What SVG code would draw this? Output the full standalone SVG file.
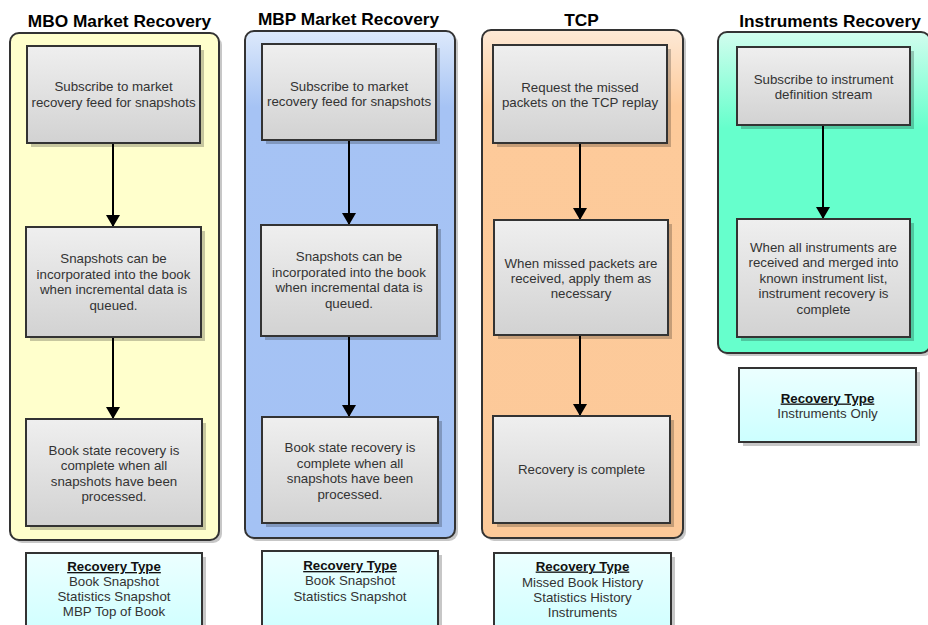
<svg xmlns="http://www.w3.org/2000/svg" width="928" height="625" viewBox="0 0 928 625">
<defs>
<linearGradient id="gBox" x1="0" y1="0" x2="0" y2="1"><stop offset="0" stop-color="#efefef"/><stop offset="1" stop-color="#d2d2d2"/></linearGradient>
<linearGradient id="gRec" x1="0" y1="0" x2="0" y2="1"><stop offset="0" stop-color="#ecffff"/><stop offset="1" stop-color="#ccffff"/></linearGradient>
<linearGradient id="gBlue" x1="0" y1="0" x2="0" y2="1"><stop offset="0" stop-color="#dde9fb"/><stop offset="0.15" stop-color="#a6c3f4"/><stop offset="1" stop-color="#a4c2f4"/></linearGradient>
<linearGradient id="gOrange" x1="0" y1="0" x2="0" y2="1"><stop offset="0" stop-color="#fde9d6"/><stop offset="0.15" stop-color="#fdca9a"/><stop offset="1" stop-color="#fcc999"/></linearGradient>
<linearGradient id="gGreen" x1="0" y1="0" x2="0" y2="1"><stop offset="0" stop-color="#d2fdee"/><stop offset="0.3" stop-color="#66ffcc"/><stop offset="1" stop-color="#66ffcc"/></linearGradient>
<marker id="arr" markerUnits="userSpaceOnUse" markerWidth="14" markerHeight="14" refX="12" refY="7" orient="auto"><path d="M0,0 L12,7 L0,14 Z" fill="#000"/></marker>
</defs>
<style>
.title{font-family:"Liberation Sans",Arial,sans-serif;font-weight:bold;font-size:17.3px;fill:#000;text-anchor:middle}
.t{font-family:"Liberation Sans",Arial,sans-serif;font-size:13.3px;fill:#333;text-anchor:middle}
.h{font-weight:bold;text-decoration:underline;fill:#111}
.cont{stroke:#333;stroke-width:2}
.box{fill:url(#gBox);stroke:#333;stroke-width:2}
.rec{fill:url(#gRec);stroke:#333;stroke-width:2}
.sh{fill:#000;opacity:0.22}
.conn{stroke:#000;stroke-width:2;fill:none;marker-end:url(#arr)}
</style>
<rect width="928" height="625" fill="#fff"/>

<g id="col-mbo">
<text class="title" x="119.5" y="27">MBO Market Recovery</text>
<rect class="sh" x="13" y="36" width="209" height="507" rx="9"/>
<rect class="cont" x="10" y="33" width="209" height="507" rx="9" fill="#ffffcc"/>
</g>
<g id="col-mbp">
<text class="title" x="348.5" y="25">MBP Market Recovery</text>
<rect class="sh" x="248" y="34" width="210" height="507" rx="9"/>
<rect class="cont" x="245" y="31" width="210" height="507" rx="9" fill="url(#gBlue)"/>
</g>
<g id="col-tcp">
<text class="title" x="581.5" y="26">TCP</text>
<rect class="sh" x="485" y="33" width="201" height="508" rx="9"/>
<rect class="cont" x="482" y="30" width="201" height="508" rx="9" fill="url(#gOrange)"/>
</g>
<g id="col-inst">
<text class="title" x="830" y="27">Instruments Recovery</text>
<rect class="sh" x="721" y="35" width="212" height="321" rx="9"/>
<rect class="cont" x="718" y="32" width="212" height="321" rx="9" fill="url(#gGreen)"/>
</g>

<g id="connectors">
<line class="conn" x1="113" y1="143" x2="113" y2="227"/>
<line class="conn" x1="113" y1="337" x2="113" y2="419"/>
<line class="conn" x1="349" y1="140" x2="349" y2="225"/>
<line class="conn" x1="349" y1="336" x2="349" y2="417"/>
<line class="conn" x1="580" y1="143" x2="580" y2="220"/>
<line class="conn" x1="580" y1="335" x2="580" y2="416"/>
<line class="conn" x1="823" y1="125" x2="823" y2="219"/>
</g>

<g id="mbo-1">
<rect class="sh" x="31" y="50" width="173" height="97"/>
<rect class="box" x="27" y="46" width="173" height="97"/>
<text class="t" x="113.5" y="91">Subscribe to market</text>
<text class="t" x="113.5" y="107">recovery feed for snapshots</text>
</g>
<g id="mbo-2">
<rect class="sh" x="30" y="231" width="175" height="110"/>
<rect class="box" x="26" y="227" width="175" height="110"/>
<text class="t" x="113.5" y="263">Snapshots can be</text>
<text class="t" x="113.5" y="278.5">incorporated into the book</text>
<text class="t" x="113.5" y="294">when incremental data is</text>
<text class="t" x="113.5" y="309.5">queued.</text>
</g>
<g id="mbo-3">
<rect class="sh" x="30" y="423" width="176" height="107"/>
<rect class="box" x="26" y="419" width="176" height="107"/>
<text class="t" x="114" y="454.5">Book state recovery is</text>
<text class="t" x="114" y="470">complete when all</text>
<text class="t" x="114" y="485.5">snapshots have been</text>
<text class="t" x="114" y="501">processed.</text>
</g>
<g id="mbo-rec">
<rect class="sh" x="30" y="557" width="176" height="90"/>
<rect class="rec" x="26" y="553" width="176" height="90"/>
<text class="t h" x="114" y="571">Recovery Type</text>
<text class="t" x="114" y="586">Book Snapshot</text>
<text class="t" x="114" y="601">Statistics Snapshot</text>
<text class="t" x="114" y="616">MBP Top of Book</text>
</g>

<g id="mbp-1">
<rect class="sh" x="266" y="48" width="174" height="96"/>
<rect class="box" x="262" y="44" width="174" height="96"/>
<text class="t" x="349" y="90.5">Subscribe to market</text>
<text class="t" x="349" y="106">recovery feed for snapshots</text>
</g>
<g id="mbp-2">
<rect class="sh" x="265" y="229" width="176" height="111"/>
<rect class="box" x="261" y="225" width="176" height="111"/>
<text class="t" x="349" y="261">Snapshots can be</text>
<text class="t" x="349" y="277">incorporated into the book</text>
<text class="t" x="349" y="292">when incremental data is</text>
<text class="t" x="349" y="308">queued.</text>
</g>
<g id="mbp-3">
<rect class="sh" x="266" y="421" width="176" height="106"/>
<rect class="box" x="262" y="417" width="176" height="106"/>
<text class="t" x="350" y="452">Book state recovery is</text>
<text class="t" x="350" y="467.5">complete when all</text>
<text class="t" x="350" y="483">snapshots have been</text>
<text class="t" x="350" y="498.5">processed.</text>
</g>
<g id="mbp-rec">
<rect class="sh" x="266" y="555" width="176" height="90"/>
<rect class="rec" x="262" y="551" width="176" height="90"/>
<text class="t h" x="350" y="570">Recovery Type</text>
<text class="t" x="350" y="585">Book Snapshot</text>
<text class="t" x="350" y="601">Statistics Snapshot</text>
</g>

<g id="tcp-1">
<rect class="sh" x="497" y="49" width="174" height="98"/>
<rect class="box" x="493" y="45" width="174" height="98"/>
<text class="t" x="580" y="91.5">Request the missed</text>
<text class="t" x="580" y="107">packets on the TCP replay</text>
</g>
<g id="tcp-2">
<rect class="sh" x="498" y="224" width="174" height="115"/>
<rect class="box" x="494" y="220" width="174" height="115"/>
<text class="t" x="581" y="267.5">When missed packets are</text>
<text class="t" x="581" y="282.5">received, apply them as</text>
<text class="t" x="581" y="298">necessary</text>
</g>
<g id="tcp-3">
<rect class="sh" x="497" y="420" width="177" height="107"/>
<rect class="box" x="493" y="416" width="177" height="107"/>
<text class="t" x="581.5" y="473.5">Recovery is complete</text>
</g>
<g id="tcp-rec">
<rect class="sh" x="498" y="557" width="177" height="90"/>
<rect class="rec" x="494" y="553" width="177" height="90"/>
<text class="t h" x="582.5" y="570.5">Recovery Type</text>
<text class="t" x="582.5" y="586.5">Missed Book History</text>
<text class="t" x="582.5" y="601.5">Statistics History</text>
<text class="t" x="582.5" y="617">Instruments</text>
</g>

<g id="inst-1">
<rect class="sh" x="741" y="51" width="173" height="78"/>
<rect class="box" x="737" y="47" width="173" height="78"/>
<text class="t" x="823.5" y="83.5">Subscribe to instrument</text>
<text class="t" x="823.5" y="98.5">definition stream</text>
</g>
<g id="inst-2">
<rect class="sh" x="741" y="223" width="173" height="118"/>
<rect class="box" x="737" y="219" width="173" height="118"/>
<text class="t" x="823.5" y="251.5">When all instruments are</text>
<text class="t" x="823.5" y="267">received and merged into</text>
<text class="t" x="823.5" y="282.5">known instrument list,</text>
<text class="t" x="823.5" y="298">instrument recovery is</text>
<text class="t" x="823.5" y="313.5">complete</text>
</g>
<g id="inst-rec">
<rect class="sh" x="743" y="372" width="177" height="74"/>
<rect class="rec" x="739" y="368" width="177" height="74"/>
<text class="t h" x="827.5" y="402.5">Recovery Type</text>
<text class="t" x="827.5" y="417.5">Instruments Only</text>
</g>
</svg>
